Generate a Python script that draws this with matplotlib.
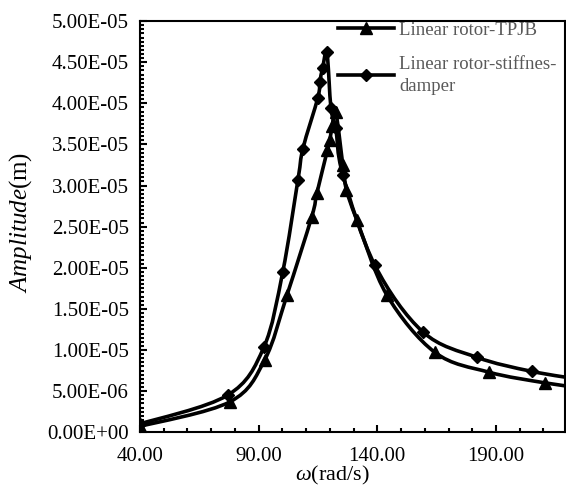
import numpy as np
import matplotlib
matplotlib.use("Agg")
import matplotlib.pyplot as plt
from matplotlib.path import Path
from matplotlib.patches import PathPatch
from matplotlib.lines import Line2D
from matplotlib.ticker import FuncFormatter, MultipleLocator

# data
omega_tpjb = [40, 78, 92.6, 102, 112.4, 114.6, 119, 120, 121, 122.5, 125.5, 127, 131.4,
              144, 164.3, 187, 210.6, 228]
amp_tpjb = [0.7e-6, 3.7e-6, 8.8e-6, 1.67e-5, 2.62e-5, 2.91e-5, 3.43e-5, 3.55e-5, 3.72e-5,
            3.9e-5, 3.25e-5, 2.95e-5, 2.58e-5, 1.67e-5, 9.7e-6, 7.3e-6, 6.0e-6, 5.3e-6]

omega_sd = [40, 77, 92.2, 100.2, 106.6, 108.7, 115, 115.8, 117, 118.8, 120.5, 122.5, 125.5,
            139, 159.2, 182, 205, 228]
amp_sd = [1.0e-6, 4.5e-6, 1.03e-5, 1.95e-5, 3.07e-5, 3.45e-5, 4.07e-5, 4.26e-5, 4.43e-5,
          4.62e-5, 3.94e-5, 3.7e-5, 3.13e-5, 2.03e-5, 1.22e-5, 9.1e-6, 7.4e-6, 6.3e-6]

labels = ["Linear rotor-TPJB", "Linear rotor-stiffnes-\ndamper"]

plt.rcParams['font.family'] = ['Liberation Serif', 'DejaVu Serif']
plt.rcParams['mathtext.fontset'] = 'custom'
plt.rcParams['mathtext.rm'] = 'Liberation Serif'
plt.rcParams['mathtext.it'] = 'Liberation Serif:italic'

dpi = 100
fig = plt.figure(figsize=(566 / dpi, 490 / dpi), dpi=dpi)
ax = fig.add_axes([0.247, 0.118, 0.751, 0.839])

xlim = (40, 219)
ylim = (0, 5e-5)
ax.set_xlim(*xlim)
ax.set_ylim(*ylim)


def smooth_path(xs, ys):
    # excel-like smoothed line: cubic bezier through the points
    xs = np.asarray(xs, float)
    ys = np.asarray(ys, float)
    sx = xlim[1] - xlim[0]
    sy = ylim[1] - ylim[0]
    px = (xs - xlim[0]) / sx
    py = (ys - ylim[0]) / sy
    n = len(px)
    verts = [(xs[0], ys[0])]
    codes = [Path.MOVETO]
    t = 1 / 6
    for i in range(n - 1):
        p0 = (px[i - 1], py[i - 1]) if i > 0 else (px[i], py[i])
        p1 = (px[i], py[i])
        p2 = (px[i + 1], py[i + 1])
        p3 = (px[i + 2], py[i + 2]) if i + 2 < n else p2
        c1 = (p1[0] + (p2[0] - p0[0]) * t, p1[1] + (p2[1] - p0[1]) * t)
        c2 = (p2[0] - (p3[0] - p1[0]) * t, p2[1] - (p3[1] - p1[1]) * t)
        for c in (c1, c2, p2):
            verts.append((xlim[0] + c[0] * sx, ylim[0] + c[1] * sy))
            codes.append(Path.CURVE4)
    return Path(verts, codes)


lw = 2.6
for xs, ys, mk, ms in [(omega_tpjb, amp_tpjb, '^', 9),
                       (omega_sd, amp_sd, 'D', 6.5)]:
    ax.add_patch(PathPatch(smooth_path(xs, ys), facecolor='none', edgecolor='black',
                           lw=lw, zorder=2))
    ax.plot(xs, ys, linestyle='none', color='black', marker=mk, markersize=ms, zorder=3)

handles = [Line2D([], [], color='black', lw=lw, marker='^', markersize=9),
           Line2D([], [], color='black', lw=lw, marker='D', markersize=6.5)]
leg = ax.legend(handles, labels, loc='upper right', bbox_to_anchor=(1.02, 1.04),
                frameon=False, fontsize=13.5, handlelength=3.0, handletextpad=0.25,
                labelspacing=0.9, labelcolor='#595959')
for t in leg.get_texts():
    t.set_linespacing(1.45)

ax.xaxis.set_major_locator(MultipleLocator(50, offset=40))
ax.xaxis.set_minor_locator(MultipleLocator(10))
ax.yaxis.set_major_locator(MultipleLocator(5e-6))
ax.yaxis.set_minor_locator(MultipleLocator(5e-7))
ax.xaxis.set_major_formatter(FuncFormatter(lambda v, p: f"{v:.2f}"))
ax.yaxis.set_major_formatter(FuncFormatter(lambda v, p: f"{v:.2E}"))
ax.tick_params(which='both', direction='in', top=False, right=False, width=1.5,
               labelsize=15, colors='black')
ax.tick_params(axis='x', which='major', length=5, pad=11)
ax.tick_params(axis='y', which='major', length=5, pad=8)
ax.tick_params(which='minor', length=3)
for s in ax.spines.values():
    s.set_linewidth(1.5)

ax.set_ylabel(r'$\mathit{Amplitude}$(m)', fontsize=18)
ax.yaxis.set_label_coords(-0.25, 0.51)
ax.set_xlabel(r'$\mathit{\omega(}$rad/s$\mathit{)}$', fontsize=16)
ax.xaxis.set_label_coords(0.454, -0.078)

fig.savefig('out.png', dpi=dpi)
